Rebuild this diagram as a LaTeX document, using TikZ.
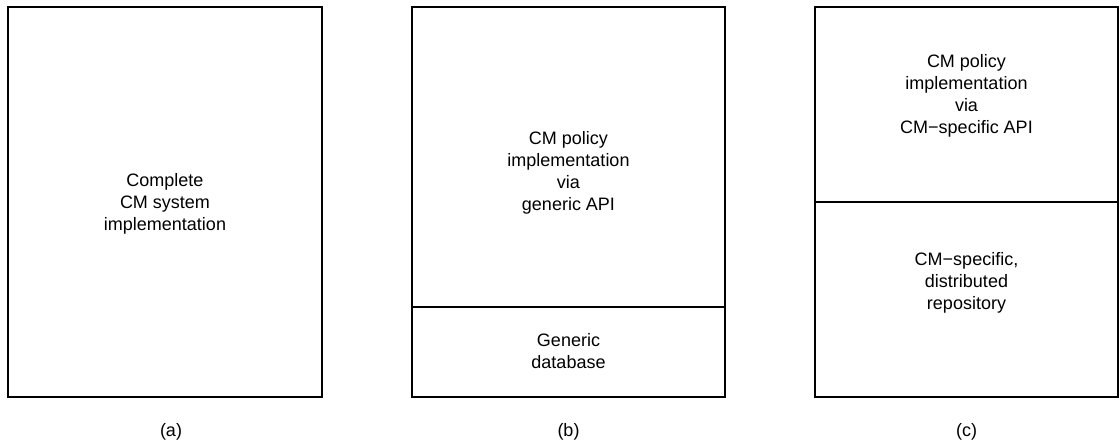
\documentclass[tikz,border=0pt]{standalone}
\usepackage{fontspec}
\setmainfont{Liberation Sans}
\begin{document}
\begin{tikzpicture}[x=1pt,y=-1pt,
  boxframe/.style={draw=black,line width=1.6pt},
  boxtxt/.style={align=center,font=\fontsize{18}{22}\selectfont,inner sep=0pt},
  captxt/.style={font=\fontsize{18}{22}\selectfont,inner sep=0pt}]
\useasboundingbox (0,0) rectangle (1120,446);
% box a
\draw[boxframe] (8,7) rectangle (322,397);
\node[boxtxt] (ta) at (165,204) {Complete\\CM system\\implementation};
\node[captxt] (la) at (171,432) {(a)};
% box b
\draw[boxframe] (412,7) rectangle (725,397);
\coordinate (bl) at (412,307);
\coordinate (br) at (725,307);
\draw[boxframe] (bl) -- (br);
\node[boxtxt] (tb1) at (568.5,173) {CM policy\\implementation\\via\\generic API};
\node[boxtxt] (tb2) at (568.5,351) {Generic\\database};
\node[captxt] (lb) at (568.5,432) {(b)};
% box c
\draw[boxframe] (815,7) rectangle (1118,397);
\coordinate (cl) at (815,202);
\coordinate (cr) at (1118,202);
\draw[boxframe] (cl) -- (cr);
\node[boxtxt] (tc1) at (966.5,96) {CM policy\\implementation\\via\\CM−specific API};
\node[boxtxt] (tc2) at (966.5,283) {CM−specific,\\distributed\\repository};
\node[captxt] (lc) at (966.5,432) {(c)};
\end{tikzpicture}
\end{document}
